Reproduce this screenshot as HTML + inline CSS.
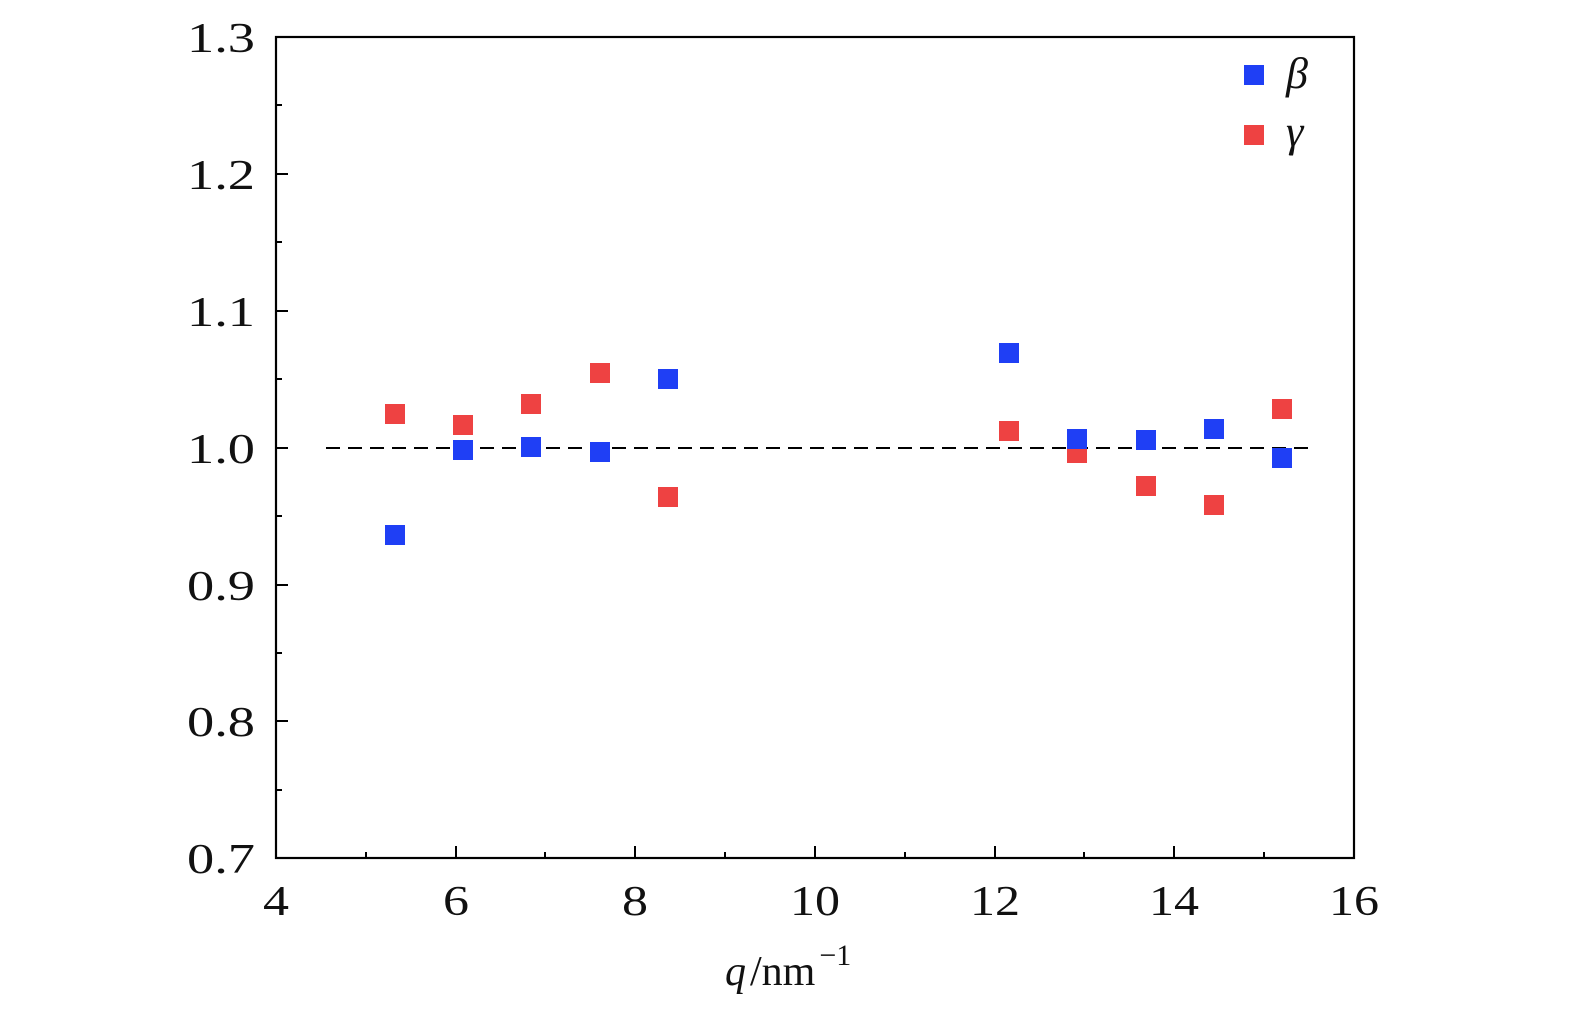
<!DOCTYPE html>
<html><head><meta charset="utf-8"><style>
html,body{margin:0;padding:0;background:#fff;}
svg text{font-family:"Liberation Serif","DejaVu Serif",serif;fill:#111;}
</style></head><body>
<svg width="1575" height="1014" viewBox="0 0 1575 1014" xmlns="http://www.w3.org/2000/svg">
<rect x="276" y="37" width="1078" height="821" fill="none" stroke="#000" stroke-width="2.2"/>
<g stroke="#000" stroke-width="2">
<line x1="456" y1="858" x2="456" y2="846"/><line x1="635" y1="858" x2="635" y2="846"/>
<line x1="815" y1="858" x2="815" y2="846"/><line x1="995" y1="858" x2="995" y2="846"/>
<line x1="1174" y1="858" x2="1174" y2="846"/>
<line x1="366" y1="858" x2="366" y2="852"/><line x1="545" y1="858" x2="545" y2="852"/>
<line x1="725" y1="858" x2="725" y2="852"/><line x1="905" y1="858" x2="905" y2="852"/>
<line x1="1084" y1="858" x2="1084" y2="852"/><line x1="1264" y1="858" x2="1264" y2="852"/>
<line x1="276" y1="174" x2="288" y2="174"/><line x1="276" y1="311" x2="288" y2="311"/>
<line x1="276" y1="448" x2="288" y2="448"/><line x1="276" y1="585" x2="288" y2="585"/>
<line x1="276" y1="721" x2="288" y2="721"/>
<line x1="276" y1="105" x2="282" y2="105"/><line x1="276" y1="242" x2="282" y2="242"/>
<line x1="276" y1="379" x2="282" y2="379"/><line x1="276" y1="516" x2="282" y2="516"/>
<line x1="276" y1="653" x2="282" y2="653"/><line x1="276" y1="790" x2="282" y2="790"/>
</g>
<line x1="326" y1="448" x2="1310" y2="448" stroke="#000" stroke-width="2" stroke-dasharray="14,8"/>
<g font-size="42">
<text x="187" y="52" textLength="68" lengthAdjust="spacingAndGlyphs">1.3</text>
<text x="187" y="189" textLength="68" lengthAdjust="spacingAndGlyphs">1.2</text>
<text x="187" y="326" textLength="68" lengthAdjust="spacingAndGlyphs">1.1</text>
<text x="187" y="463" textLength="68" lengthAdjust="spacingAndGlyphs">1.0</text>
<text x="187" y="600" textLength="68" lengthAdjust="spacingAndGlyphs">0.9</text>
<text x="187" y="736" textLength="68" lengthAdjust="spacingAndGlyphs">0.8</text>
<text x="187" y="873" textLength="68" lengthAdjust="spacingAndGlyphs">0.7</text>
</g>
<g font-size="42">
<text x="263" y="915" textLength="26" lengthAdjust="spacingAndGlyphs">4</text>
<text x="443" y="915" textLength="26" lengthAdjust="spacingAndGlyphs">6</text>
<text x="622" y="915" textLength="26" lengthAdjust="spacingAndGlyphs">8</text>
<text x="790" y="915" textLength="50" lengthAdjust="spacingAndGlyphs">10</text>
<text x="970" y="915" textLength="50" lengthAdjust="spacingAndGlyphs">12</text>
<text x="1149" y="915" textLength="50" lengthAdjust="spacingAndGlyphs">14</text>
<text x="1329" y="915" textLength="50" lengthAdjust="spacingAndGlyphs">16</text>
</g>
<text x="725" y="985" font-size="42"><tspan font-style="italic">q</tspan><tspan dx="4">/nm</tspan><tspan font-size="30" dy="-20" dx="4">−1</tspan></text>
<g fill="#ee4242">
<rect x="385" y="404" width="20" height="20"/><rect x="453" y="415" width="20" height="20"/>
<rect x="521" y="394" width="20" height="20"/><rect x="590" y="363" width="20" height="20"/>
<rect x="658" y="487" width="20" height="20"/><rect x="999" y="421" width="20" height="20"/>
<rect x="1067" y="443" width="20" height="20"/><rect x="1136" y="476" width="20" height="20"/>
<rect x="1204" y="495" width="20" height="20"/><rect x="1272" y="399" width="20" height="20"/>
<rect x="1244" y="125" width="20" height="20"/>
</g>
<g fill="#1f3ff5">
<rect x="385" y="525" width="20" height="20"/><rect x="453" y="440" width="20" height="20"/>
<rect x="521" y="437" width="20" height="20"/><rect x="590" y="442" width="20" height="20"/>
<rect x="658" y="369" width="20" height="20"/><rect x="999" y="343" width="20" height="20"/>
<rect x="1067" y="429" width="20" height="20"/><rect x="1136" y="430" width="20" height="20"/>
<rect x="1204" y="419" width="20" height="20"/><rect x="1272" y="448" width="20" height="20"/>
<rect x="1244" y="65" width="20" height="20"/>
</g>
<text x="1286" y="88" font-size="44" font-style="italic">β</text>
<text x="1286" y="146" font-size="44" font-style="italic">γ</text>
</svg>
</body></html>
